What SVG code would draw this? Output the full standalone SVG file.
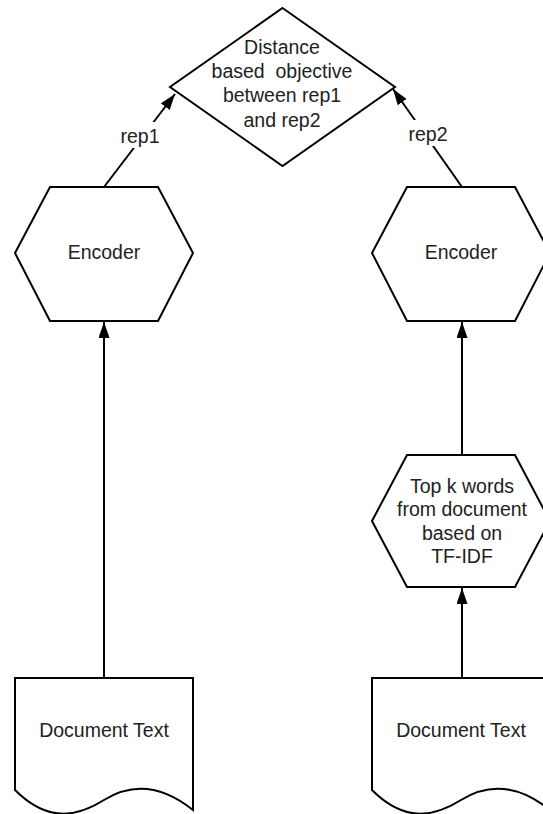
<svg xmlns="http://www.w3.org/2000/svg" width="543" height="814" viewBox="0 0 543 814">
  <defs>
    <marker id="arrow" viewBox="0 0 16 11" refX="16" refY="5.5" markerWidth="16" markerHeight="11" markerUnits="userSpaceOnUse" orient="auto">
      <path d="M0,0 L16,5.5 L0,11 Z" fill="#000"/>
    </marker>
    <style>
      .shape { fill: #fff; stroke: #000; stroke-width: 2; stroke-linejoin: miter; }
      .edge { fill: none; stroke: #000; stroke-width: 2; marker-end: url(#arrow); }
      .label { font-family: "Liberation Sans", Arial, sans-serif; font-size: 19.5px; fill: #222; text-anchor: middle; }
    </style>
  </defs>
  <rect width="543" height="814" fill="#fff"/>

  <!-- connectors -->
  <g id="connectors">
    <line class="edge" x1="104" y1="678" x2="104" y2="322"/>
    <line class="edge" x1="462" y1="678" x2="462" y2="588"/>
    <line class="edge" x1="462" y1="455" x2="462" y2="322"/>
    <line class="edge" x1="104" y1="187" x2="175" y2="94"/>
    <line class="edge" x1="462" y1="187" x2="393" y2="89"/>
    <rect x="117" y="122" width="46" height="26" fill="#fff"/>
    <text class="label" x="140" y="143">rep1</text>
    <rect x="405" y="120" width="46" height="26" fill="#fff"/>
    <text class="label" x="428" y="141">rep2</text>
  </g>

  <!-- objective -->
  <g id="objective">
    <polygon class="shape" points="282.5,8 395,87 282.5,166 170,87"/>
    <text class="label" x="282" y="54">Distance</text>
    <text class="label" x="282" y="78" xml:space="preserve">based  objective</text>
    <text class="label" x="282" y="102">between rep1</text>
    <text class="label" x="282" y="127">and rep2</text>
  </g>

  <!-- left encoder -->
  <g id="encoder-left">
    <polygon class="shape" points="15,253 50,187 158,187 193,253 158,321 50,321"/>
    <text class="label" x="104" y="259">Encoder</text>
  </g>

  <!-- right encoder -->
  <g id="encoder-right">
    <polygon class="shape" points="372,253 407,187 515,187 550,253 515,321 407,321"/>
    <text class="label" x="461" y="259">Encoder</text>
  </g>

  <!-- keyword selection -->
  <g id="topk">
    <polygon class="shape" points="372,521 407,455 515,455 550,521 515,587 407,587"/>
    <text class="label" x="462" y="493">Top k words</text>
    <text class="label" x="462" y="516">from document</text>
    <text class="label" x="462" y="540">based on</text>
    <text class="label" x="462" y="563">TF-IDF</text>
  </g>

  <!-- left document -->
  <g id="doc-left">
    <path class="shape" d="M15,678 H193 V810 C158,782 128,785 104,800 C80,815 50,825 15,790 Z"/>
    <text class="label" x="104" y="737">Document Text</text>
  </g>

  <!-- right document -->
  <g id="doc-right">
    <path class="shape" d="M372,678 H550 V810 C515,782 485,785 461,800 C437,815 407,825 372,790 Z"/>
    <text class="label" x="461" y="737">Document Text</text>
  </g>
</svg>
